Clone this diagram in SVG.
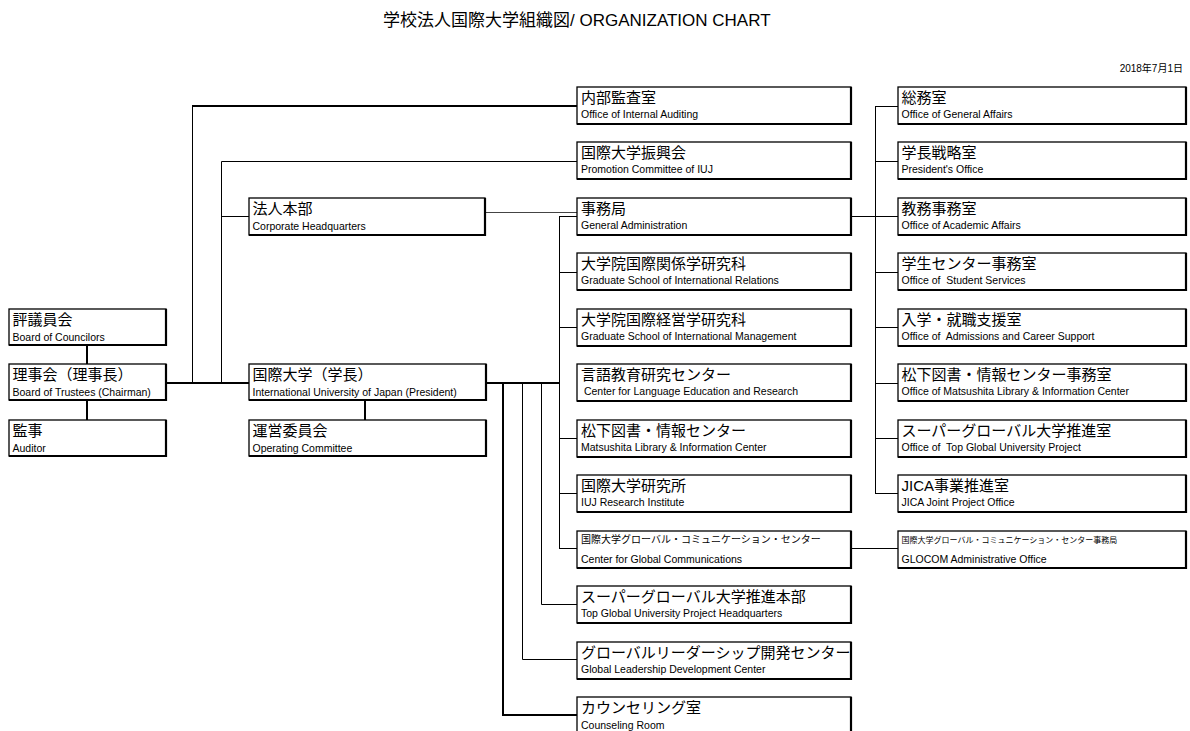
<svg xmlns="http://www.w3.org/2000/svg" width="1190" height="731" viewBox="0 0 1190 731">
<style>
text{font-family:"Liberation Sans","Noto Sans CJK JP",sans-serif;fill:#000;white-space:pre}
.jp{font-size:15px}
.en{font-size:10.5px}
.jps{font-size:10px}
.jpx{font-size:8px}
.box{fill:#fff;stroke:#000;stroke-width:1.3}
.sh{fill:none;stroke:#000;stroke-width:2.2}
.c1{fill:none;stroke:#000;stroke-width:1}
.c2{fill:none;stroke:#000;stroke-width:2}
.cg{fill:none;stroke:#444;stroke-width:1}
</style>
<rect width="1190" height="731" fill="#fff"/>
<text x="383" y="26" style="font-size:17px">学校法人国際大学組織図/ ORGANIZATION CHART</text>
<text x="1183" y="72" text-anchor="end" style="font-size:10px">2018年7月1日</text>

<g id="connectors">
<path class="c2" d="M87 345V364M87 400V420M166 383H249M365 400V420M486 383H559"/>
<path class="c1" d="M192.5 383V106"/><path class="c2" d="M192 106H577"/>
<path class="c1" d="M221.5 383V161.5H577M221.5 216.5H249"/>
<path class="cg" d="M485 212.5H577"/>
<path class="c1" d="M559.5 216.5V548.5M559 216.5H577M559 272.5H577M559 327.5H577M559 438.5H577M559 493.5H577M559 548.5H577"/>
<path class="c2" d="M503 383V715H577"/>
<path class="c1" d="M522.5 383V659.5H577M541.5 383V604.5H577"/>
<path class="c1" d="M851 216.5H875.5M875.5 106V493.5M875 106.5H898M875 161.5H898M875 216.5H898M875 272.5H898M875 327.5H898M875 383.5H898M875 438.5H898M875 493.5H898M851 548.5H898"/>
</g>

<g id="n-councilors"><rect class="box" x="9" y="309" width="157" height="36"/><path class="sh" d="M166 309V345H9"/><text class="jp" x="12.5" y="325">評議員会</text><text class="en" x="12.5" y="341">Board of Councilors</text></g>
<g id="n-trustees"><rect class="box" x="9" y="364" width="157" height="36"/><path class="sh" d="M166 364V400H9"/><text class="jp" x="12.5" y="380">理事会（理事長）</text><text class="en" x="12.5" y="396">Board of Trustees (Chairman)</text></g>
<g id="n-auditor"><rect class="box" x="9" y="420" width="157" height="36"/><path class="sh" d="M166 420V456H9"/><text class="jp" x="12.5" y="436">監事</text><text class="en" x="12.5" y="452">Auditor</text></g>

<g id="n-corphq"><rect class="box" x="249" y="198" width="236" height="37"/><path class="sh" d="M485 198V235H249"/><text class="jp" x="252.5" y="214">法人本部</text><text class="en" x="252.5" y="230">Corporate Headquarters</text></g>
<g id="n-iuj"><rect class="box" x="249" y="364" width="237" height="36"/><path class="sh" d="M486 364V400H249"/><text class="jp" x="252.5" y="380">国際大学（学長）</text><text class="en" x="252.5" y="396">International University of Japan (President)</text></g>
<g id="n-opcom"><rect class="box" x="249" y="420" width="237" height="36"/><path class="sh" d="M486 420V456H249"/><text class="jp" x="252.5" y="436">運営委員会</text><text class="en" x="252.5" y="452">Operating Committee</text></g>

<g id="n-audit"><rect class="box" x="577" y="87" width="274" height="37"/><path class="sh" d="M851 87V124H577"/><text class="jp" x="581" y="103">内部監査室</text><text class="en" x="581" y="118">Office of Internal Auditing</text></g>
<g id="n-promo"><rect class="box" x="577" y="142" width="274" height="37"/><path class="sh" d="M851 142V179H577"/><text class="jp" x="581" y="158">国際大学振興会</text><text class="en" x="581" y="173">Promotion Committee of IUJ</text></g>
<g id="n-genadmin"><rect class="box" x="577" y="198" width="274" height="37"/><path class="sh" d="M851 198V235H577"/><text class="jp" x="581" y="214">事務局</text><text class="en" x="581" y="229">General Administration</text></g>
<g id="n-gsir"><rect class="box" x="577" y="253" width="274" height="37"/><path class="sh" d="M851 253V290H577"/><text class="jp" x="581" y="269">大学院国際関係学研究科</text><text class="en" x="581" y="284">Graduate School of International Relations</text></g>
<g id="n-gsim"><rect class="box" x="577" y="309" width="274" height="37"/><path class="sh" d="M851 309V346H577"/><text class="jp" x="581" y="325">大学院国際経営学研究科</text><text class="en" x="581" y="340">Graduate School of International Management</text></g>
<g id="n-cler"><rect class="box" x="577" y="364" width="274" height="37"/><path class="sh" d="M851 364V401H577"/><text class="jp" x="581" y="380">言語教育研究センター</text><text class="en" x="581" y="395"> Center for Language Education and Research</text></g>
<g id="n-lib"><rect class="box" x="577" y="420" width="274" height="37"/><path class="sh" d="M851 420V457H577"/><text class="jp" x="581" y="436">松下図書・情報センター</text><text class="en" x="581" y="451">Matsushita Library &amp; Information Center</text></g>
<g id="n-iujri"><rect class="box" x="577" y="475" width="274" height="37"/><path class="sh" d="M851 475V512H577"/><text class="jp" x="581" y="491">国際大学研究所</text><text class="en" x="581" y="506">IUJ Research Institute</text></g>
<g id="n-glocom"><rect class="box" x="577" y="531" width="274" height="37"/><path class="sh" d="M851 531V568H577"/><text class="jps" x="581" y="543">国際大学グローバル・コミュニケーション・センター</text><text class="en" x="581" y="563">Center for Global Communications</text></g>
<g id="n-tguhq"><rect class="box" x="577" y="586" width="274" height="37"/><path class="sh" d="M851 586V623H577"/><text class="jp" x="581" y="602">スーパーグローバル大学推進本部</text><text class="en" x="581" y="617">Top Global University Project Headquarters</text></g>
<g id="n-gldc"><rect class="box" x="577" y="642" width="274" height="37"/><path class="sh" d="M851 642V679H577"/><text class="jp" x="581" y="658">グローバルリーダーシップ開発センター</text><text class="en" x="581" y="673">Global Leadership Development Center</text></g>
<g id="n-counsel"><rect class="box" x="577" y="697" width="274" height="50"/><path class="sh" d="M851 697V747"/><text class="jp" x="581" y="713">カウンセリング室</text><text class="en" x="581" y="729">Counseling Room</text></g>

<g id="n-ga"><rect class="box" x="898" y="87" width="288" height="37"/><path class="sh" d="M1186 87V124H898"/><text class="jp" x="901.5" y="103">総務室</text><text class="en" x="901.5" y="118">Office of General Affairs</text></g>
<g id="n-pres"><rect class="box" x="898" y="142" width="288" height="37"/><path class="sh" d="M1186 142V179H898"/><text class="jp" x="901.5" y="158">学長戦略室</text><text class="en" x="901.5" y="173">President's Office</text></g>
<g id="n-acad"><rect class="box" x="898" y="198" width="288" height="37"/><path class="sh" d="M1186 198V235H898"/><text class="jp" x="901.5" y="214">教務事務室</text><text class="en" x="901.5" y="229">Office of Academic Affairs</text></g>
<g id="n-student"><rect class="box" x="898" y="253" width="288" height="37"/><path class="sh" d="M1186 253V290H898"/><text class="jp" x="901.5" y="269">学生センター事務室</text><text class="en" x="901.5" y="284">Office of  Student Services</text></g>
<g id="n-adm"><rect class="box" x="898" y="309" width="288" height="37"/><path class="sh" d="M1186 309V346H898"/><text class="jp" x="901.5" y="325">入学・就職支援室</text><text class="en" x="901.5" y="340">Office of  Admissions and Career Support</text></g>
<g id="n-libo"><rect class="box" x="898" y="364" width="288" height="37"/><path class="sh" d="M1186 364V401H898"/><text class="jp" x="901.5" y="380">松下図書・情報センター事務室</text><text class="en" x="901.5" y="395">Office of Matsushita Library &amp; Information Center</text></g>
<g id="n-tguo"><rect class="box" x="898" y="420" width="288" height="37"/><path class="sh" d="M1186 420V457H898"/><text class="jp" x="901.5" y="436">スーパーグローバル大学推進室</text><text class="en" x="901.5" y="451">Office of  Top Global University Project</text></g>
<g id="n-jica"><rect class="box" x="898" y="475" width="288" height="37"/><path class="sh" d="M1186 475V512H898"/><text class="jp" x="901.5" y="491">JICA事業推進室</text><text class="en" x="901.5" y="506">JICA Joint Project Office</text></g>
<g id="n-glocomadm"><rect class="box" x="898" y="531" width="288" height="37"/><path class="sh" d="M1186 531V568H898"/><text class="jpx" x="901.5" y="543">国際大学グローバル・コミュニケーション・センター事務局</text><text class="en" x="901.5" y="563">GLOCOM Administrative Office</text></g>
</svg>
